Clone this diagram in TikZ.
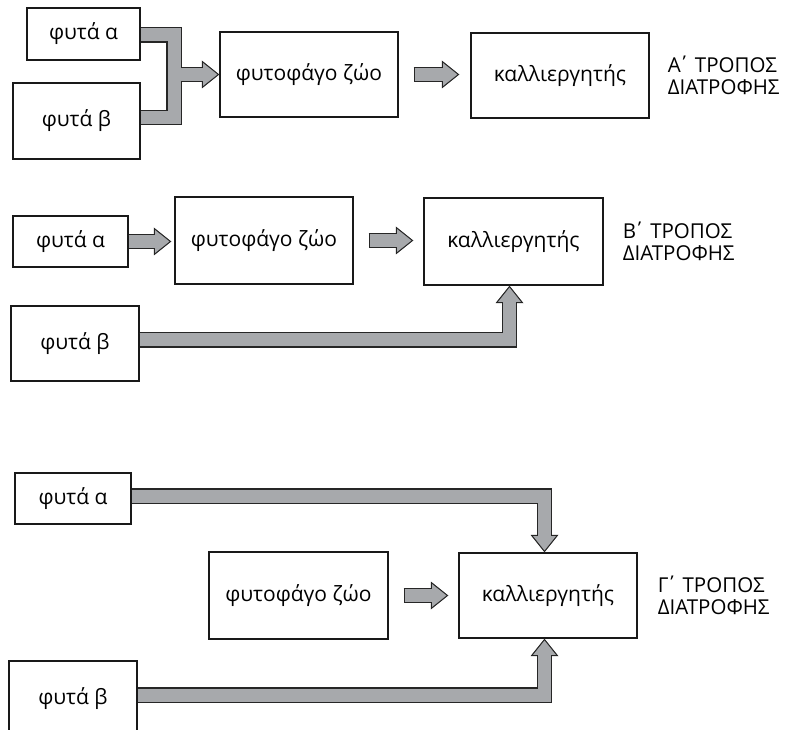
\documentclass[tikz,border=0pt]{standalone}
\usepackage{fontspec}
\setmainfont{Open Sans}
\usetikzlibrary{arrows.meta,calc,positioning}
\definecolor{bandgray}{RGB}{167,169,172}

\begin{document}
\begin{tikzpicture}[x=1pt,y=-1pt,
  box/.style={draw=black!90,line width=1.3pt,inner sep=0pt,font=\fontsize{21}{24}\selectfont},
  title/.style={align=left,inner sep=0pt,font=\fontsize{20.5}{21.5}\selectfont},
  band/.style={line width=15.5pt,draw=black!85,line join=miter},
  bandin/.style={line width=13pt,draw=bandgray,line join=miter},
  head/.style={-{Triangle[length=17.5pt,width=28pt,line width=0pt]}},
  headin/.style={-{Triangle[length=14.4pt,width=23pt,line width=0pt]},shorten >=1.9pt}]
\useasboundingbox (0,0) rectangle (804,730);

% A' tropos
\node[box,minimum width=113pt,minimum height=52pt] (aA) at (83.5,34) {φυτά α};
\node[box,minimum width=127pt,minimum height=76pt] (aB) at (76.5,121) {φυτά β};
\node[box,minimum width=178pt,minimum height=85pt] (phA) at (309,74.5) {φυτοφάγο ζώο};
\node[box,minimum width=178pt,minimum height=85pt] (kA) at (560,75.5) {καλλιεργητής};
\node[title,right=18pt of kA] (tA) {Α\kern-3pt΄ ΤΡΟΠΟΣ\\ΔΙΑΤΡΟΦΗΣ};
\coordinate (jA) at (174,74.5);

% B' tropos
\node[box,minimum width=115pt,minimum height=51pt] (bA) at (70.5,241.5) {φυτά α};
\node[box,minimum width=178pt,minimum height=87pt] (phB) at (264,240.5) {φυτοφάγο ζώο};
\node[box,minimum width=179pt,minimum height=87pt] (kB) at (513.5,241.5) {καλλιεργητής};
\node[box,minimum width=128pt,minimum height=75pt] (bB) at (75,343.5) {φυτά β};
\node[title,right=19pt of kB] (tB) {Β\kern-3pt΄ ΤΡΟΠΟΣ\\ΔΙΑΤΡΟΦΗΣ};

% G' tropos
\node[box,minimum width=116pt,minimum height=51pt] (cA) at (73,498.5) {φυτά α};
\node[box,minimum width=179pt,minimum height=87pt] (phC) at (298.5,595.5) {φυτοφάγο ζώο};
\node[box,minimum width=178pt,minimum height=85pt] (kC) at (548,595.5) {καλλιεργητής};
\node[box,minimum width=128pt,minimum height=75pt] (cB) at (73,698.5) {φυτά β};
\node[title,right=20pt of kC] (tC) {Γ\kern-3pt΄ ΤΡΟΠΟΣ\\ΔΙΑΤΡΟΦΗΣ};

% outline of the arrows
\draw[band] ($(aA.east)+(0,1)$) -| (jA) ($(aB.east)+(0,-3.5)$) -| (jA);
\draw[band,head] (jA) -- (phA.west);
\draw[band,head,shorten <=15pt,shorten >=11pt] (phA.east) -- (phA.east -| kA.west);
\draw[band,head,shorten >=3pt] (bA.east) -- (bA.east -| phB.west);
\draw[band,head,shorten <=15pt,shorten >=10pt] (phB.east) -- (phB.east -| kB.west);
\draw[band,head] ($(bB.east)+(0,-3.5)$) -| ($(kB.south)+(-4,0)$);
\draw[band,head] ($(cA.east)+(0,-2.5)$) -| ($(kC.north)+(-3.5,0)$);
\draw[band,head,shorten <=15pt,shorten >=10pt] (phC.east) -- (phC.east -| kC.west);
\draw[band,head] ($(cB.east)+(0,-3.5)$) -| ($(kC.south)+(-3.5,0)$);

% grey filling
\draw[bandin] ($(aA.east)+(0,1)$) -| (jA) ($(aB.east)+(0,-3.5)$) -| (jA);
\draw[bandin,headin] (jA) -- (phA.west);
\draw[bandin,headin,shorten <=16.2pt,shorten >=12.9pt] (phA.east) -- (phA.east -| kA.west);
\draw[bandin,headin,shorten >=4.9pt] (bA.east) -- (bA.east -| phB.west);
\draw[bandin,headin,shorten <=16.2pt,shorten >=11.9pt] (phB.east) -- (phB.east -| kB.west);
\draw[bandin,headin] ($(bB.east)+(0,-3.5)$) -| ($(kB.south)+(-4,0)$);
\draw[bandin,headin] ($(cA.east)+(0,-2.5)$) -| ($(kC.north)+(-3.5,0)$);
\draw[bandin,headin,shorten <=16.2pt,shorten >=11.9pt] (phC.east) -- (phC.east -| kC.west);
\draw[bandin,headin] ($(cB.east)+(0,-3.5)$) -| ($(kC.south)+(-3.5,0)$);
\end{tikzpicture}
\end{document}
